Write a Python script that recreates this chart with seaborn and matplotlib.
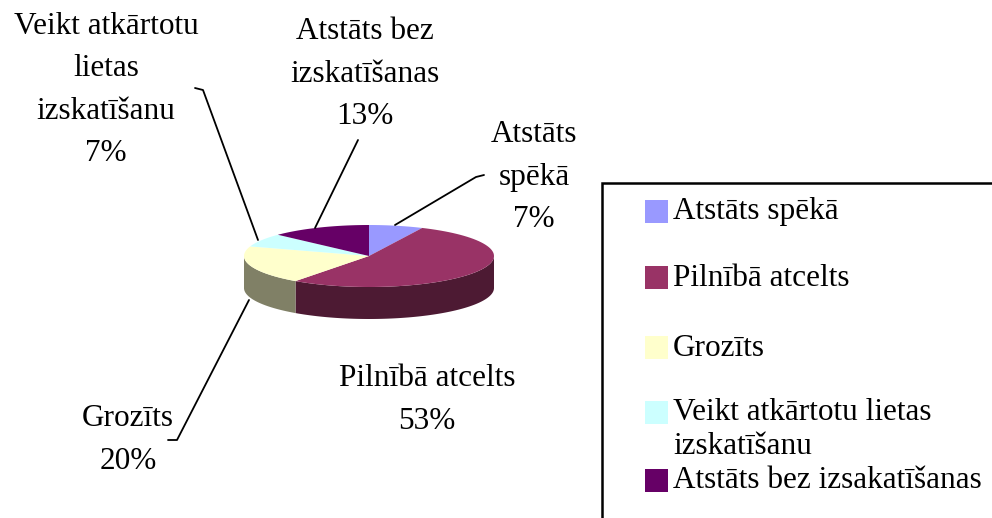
import numpy as np
import matplotlib
matplotlib.use("Agg")
import matplotlib.pyplot as plt
from matplotlib.patches import Polygon, Rectangle
import seaborn as sns

# ---- data ----
categories = ["Atstāts spēkā", "Pilnībā atcelts", "Grozīts",
              "Veikt atkārtotu lietas izskatīšanu", "Atstāts bez izsakatīšanas"]
legend_labels = ["Atstāts spēkā", "Pilnībā atcelts", "Grozīts",
                 "Veikt atkārtotu lietas\nizskatīšanu", "Atstāts bez izsakatīšanas"]
values = [7, 53, 20, 7, 13]
slice_labels = ["Atstāts\nspēkā", "Pilnībā atcelts", "Grozīts",
                "Veikt atkārtotu\nlietas\nizskatīšanu", "Atstāts bez\nizskatīšanas"]
colors = ["#9999FF", "#993366", "#FFFFCC", "#CCFFFF", "#660066"]

sns.set_theme(style="white")
plt.rcParams['font.family'] = ['Liberation Serif', 'DejaVu Serif']

fig = plt.figure(figsize=(9.92, 5.18), dpi=100)
ax = fig.add_axes([0, 0, 1, 1])
ax.set_xlim(0, 992)
ax.set_ylim(518, 0)
ax.axis("off")

cx, cy, rx, ry, depth = 369, 256, 125, 31, 32

def dark(c, k=0.5):
    r, g, b = matplotlib.colors.to_rgb(c)
    return (r * k, g * k, b * k)

fr = np.array(values, dtype=float) / np.sum(values)
cum = np.concatenate([[0], np.cumsum(fr)])
starts = 90 - 360 * cum[:-1]
ends = 90 - 360 * cum[1:]

def arc(a0, a1, n=80, dy=0):
    t = np.radians(np.linspace(a0, a1, n))
    return np.column_stack([cx + rx * np.cos(t), cy - ry * np.sin(t) + dy])

# side walls (visible lower half: angles -180..0)
for s, e, c in zip(starts, ends, colors):
    lo, hi = max(e, -180), min(s, 0)
    if hi > lo:
        top = arc(hi, lo)
        bot = arc(lo, hi, dy=depth)
        ax.add_patch(Polygon(np.vstack([top, bot]), closed=True,
                             facecolor=dark(c), edgecolor="none"))
# tops
for s, e, c in zip(starts, ends, colors):
    pts = np.vstack([[cx, cy], arc(s, e)])
    ax.add_patch(Polygon(pts, closed=True, facecolor=c, edgecolor="none"))

fs = 22.5
lbl_pos = [(534, 177), (427, 400), (128, 440), (106, 90), (365, 74)]
for (x, y), name, v in zip(lbl_pos, slice_labels, values):
    ax.text(x, y, f"{name}\n{v}%", ha="center", va="center", fontsize=fs,
            linespacing=1.62, color="black")

# leader lines
lk = dict(color="black", lw=1.3)
ax.plot([395, 476, 484], [225, 177, 175], **lk)
ax.plot([315, 358], [228, 140], **lk)
ax.plot([195, 203, 258], [88, 90, 240], **lk)
ax.plot([249, 177, 168], [300, 440, 440], **lk)

# legend box
ax.add_patch(Rectangle((602, 183), 420, 360, facecolor="white",
                       edgecolor="black", lw=1.8, clip_on=True))
leg_y = [211, 277, 347, 412, 480]
for y, lab, c in zip(leg_y, legend_labels, colors):
    ax.add_patch(Rectangle((645, y - 11), 23, 23, facecolor=c, edgecolor="none"))
    if "\n" in lab:
        ax.text(673, y - 14, lab, ha="left", va="top",
                fontsize=fs, linespacing=1.22, color="black")
    else:
        ax.text(673, y + 1, lab, ha="left", va="center",
                fontsize=fs, color="black")

fig.savefig("out.png", dpi=100)
